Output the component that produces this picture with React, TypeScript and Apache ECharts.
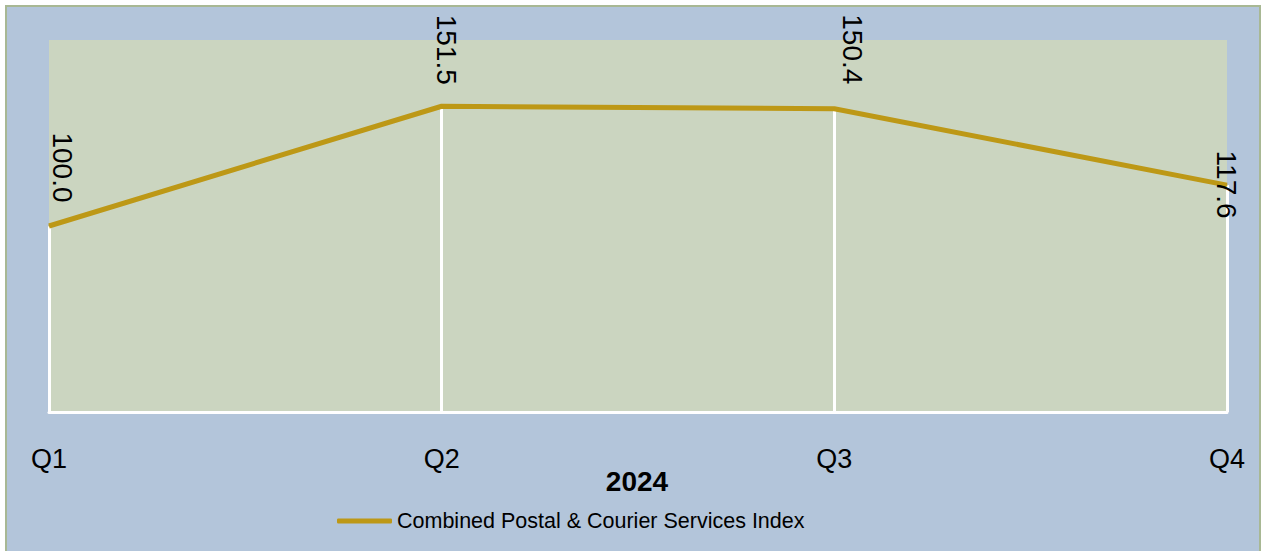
import React, { useEffect, useRef } from "react";
import * as echarts from "echarts";

const categories: string[] = ["Q1", "Q2", "Q3", "Q4"];
const indexValues: number[] = [100.0, 151.5, 150.4, 117.6];
const seriesName = "Combined Postal & Courier Services Index";
const axisTitle = "2024";
const yMin = 20;
const yMax = 180;

// presentation only: screen offset (dx, dy) of each rotated value label from its point
const labelOffsets: number[][] = [[13, -23], [5, -21], [18, -24], [-1, 0]];
const labelAligns: string[] = ["right", "right", "right", "center"];

const FONT = "'Liberation Sans', Arial, sans-serif";
const GOLD = "#bd9816";
const PLOT_BG = "#cbd5c0";
const CHART_BG = "#b3c5da";
const BORDER = "#a8b894";

export default function App() {
  const ref = useRef<HTMLDivElement>(null);

  useEffect(() => {
    if (!ref.current) return;
    const chart = echarts.init(ref.current, null, { renderer: "svg" });
    chart.setOption({
      animation: false,
      backgroundColor: "transparent",
      textStyle: { fontFamily: FONT },
      grid: {
        show: true,
        backgroundColor: PLOT_BG,
        borderWidth: 0,
        left: 49,
        right: 38,
        top: 40,
        bottom: 139,
        containLabel: false,
      },
      legend: {
        data: [{ name: seriesName, icon: "roundRect" }],
        left: 337,
        top: 510,
        padding: 0,
        itemWidth: 55,
        itemHeight: 5,
        textStyle: { fontSize: 21.5, color: "#000", fontFamily: FONT },
        selectedMode: false,
      },
      graphic: [
        {
          type: "text",
          x: 637,
          y: 481,
          style: {
            text: axisTitle,
            fontSize: 28,
            fontWeight: "bold",
            fontFamily: FONT,
            fill: "#000",
            align: "center",
            verticalAlign: "middle",
          },
        },
      ],
      xAxis: {
        type: "category",
        data: categories,
        boundaryGap: false,
        axisLine: { show: true, lineStyle: { color: "#ffffff", width: 3 } },
        axisTick: { show: false },
        splitLine: { show: false },
        axisLabel: { fontSize: 27, color: "#000", margin: 33, fontFamily: FONT },
      },
      yAxis: {
        type: "value",
        min: yMin,
        max: yMax,
        show: false,
        splitLine: { show: false },
      },
      series: [
        {
          type: "line",
          name: seriesName,
          z: 3,
          symbol: "circle",
          symbolSize: 1,
          showSymbol: true,
          lineStyle: { color: GOLD, width: 5 },
          itemStyle: { color: GOLD },
          emphasis: { disabled: true },
          label: {
            show: true,
            position: "top",
            distance: 0,
            rotate: -90,
            align: "right",
            verticalAlign: "middle",
            fontSize: 28,
            color: "#000",
            fontFamily: FONT,
            formatter: (p: any) => Number(p.value).toFixed(1),
          },
          data: indexValues.map((v, i) => ({
            value: v,
            // offset is applied in the label's rotated frame
            label: {
              offset: [labelOffsets[i][1], -labelOffsets[i][0]],
              align: labelAligns[i],
            },
          })),
          markLine: {
            silent: true,
            z: 1,
            symbol: "none",
            label: { show: false },
            lineStyle: { color: "#ffffff", width: 3, type: "solid" },
            data: categories.map((c, i) => [
              { coord: [c, indexValues[i]] },
              { coord: [c, yMin] },
            ]),
          },
        },
      ],
    });
    return () => chart.dispose();
  }, []);

  return (
    <div
      style={{
        position: "fixed",
        left: 0,
        top: 0,
        width: 1265,
        height: 551,
        background: "#ffffff",
        overflow: "hidden",
      }}
    >
      <div
        style={{
          position: "absolute",
          left: 5,
          top: 5,
          width: 1256,
          height: 600,
          background: CHART_BG,
          border: `2px solid ${BORDER}`,
          boxSizing: "border-box",
        }}
      />
      <div
        ref={ref}
        style={{ position: "absolute", left: 0, top: 0, width: 1265, height: 551 }}
      />
    </div>
  );
}
